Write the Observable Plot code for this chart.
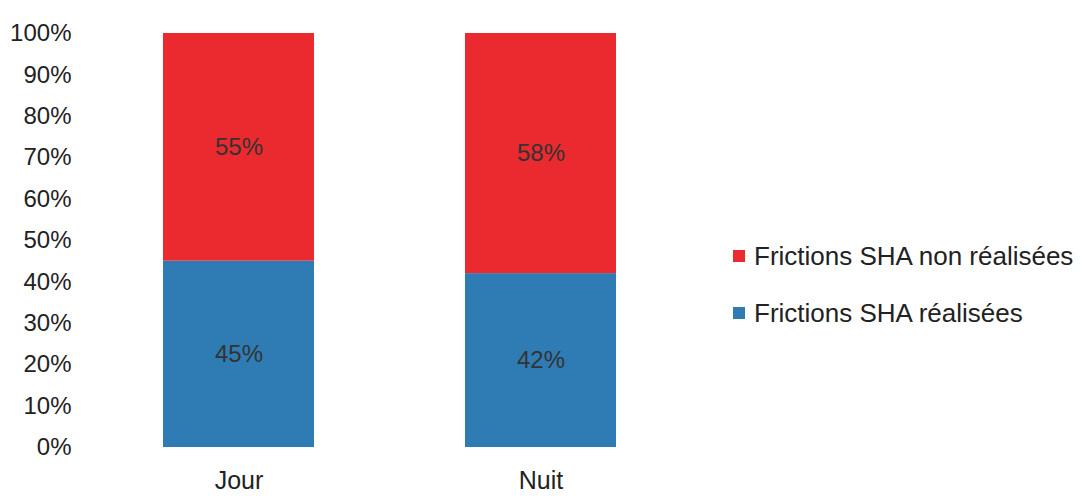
<!DOCTYPE html>
<html><head><meta charset="utf-8">
<script src="https://cdn.jsdelivr.net/npm/d3@7"></script>
<script src="https://cdn.jsdelivr.net/npm/@observablehq/plot@0.6"></script>
<style>
body{margin:0;background:#fff;font-family:"Liberation Sans",Arial,sans-serif;}
#wrap{position:relative;width:1082px;height:500px;}
#legend{position:absolute;left:733px;top:240px;font-size:26px;color:#222;}
#legend .row{display:flex;align-items:center;height:32px;margin-bottom:25px;white-space:nowrap;}
#legend .sw{width:12px;height:12px;margin-right:9px;}
</style></head>
<body><div id="wrap"></div>
<script>
const categories = ["Jour", "Nuit"];
const series = ["Frictions SHA réalisées", "Frictions SHA non réalisées"];
const realisees = [45, 42];
const nonRealisees = [55, 58];
const colors = ["#2F7CB5", "#EA2A2F"];
const yTicks = [0,10,20,30,40,50,60,70,80,90,100];

const data = [];
categories.forEach((c,i)=>{
  data.push({cat:c, serie:series[0], value:realisees[i]});
  data.push({cat:c, serie:series[1], value:nonRealisees[i]});
});

const chart = Plot.plot({
  width:1082, height:500,
  marginTop:33, marginBottom:53, marginLeft:80, marginRight:0,
  style:{fontFamily:"Liberation Sans, Arial, sans-serif", fontSize:"24px", color:"#222", background:"transparent"},
  x:{domain:categories, range:[12,767], padding:0.5, label:null, tickSize:0, tickPadding:24},
  y:{domain:[0,100], ticks:yTicks, tickFormat:d=>d+"%", label:null, tickSize:0, tickPadding:9},
  color:{domain:series, range:colors},
  marks:[
    Plot.barY(data, Plot.stackY({x:"cat", y:"value", fill:"serie"})),
    Plot.text(data, Plot.stackY({x:"cat", y:"value", text:d=>d.value+"%", fill:"#333", fontSize:24})),
    Plot.axisX({tickSize:0, tickPadding:24, fontSize:25, label:null}),
  ]
});
const wrap = document.getElementById("wrap");
wrap.appendChild(chart);
const legend = document.createElement("div");
legend.id="legend";
[[series[1],colors[1]],[series[0],colors[0]]].forEach(([s,c])=>{
  const r=document.createElement("div");r.className="row";
  const sw=document.createElement("div");sw.className="sw";sw.style.background=c;
  const t=document.createElement("span");t.textContent=s;
  r.appendChild(sw);r.appendChild(t);legend.appendChild(r);
});
wrap.appendChild(legend);
</script></body></html>
